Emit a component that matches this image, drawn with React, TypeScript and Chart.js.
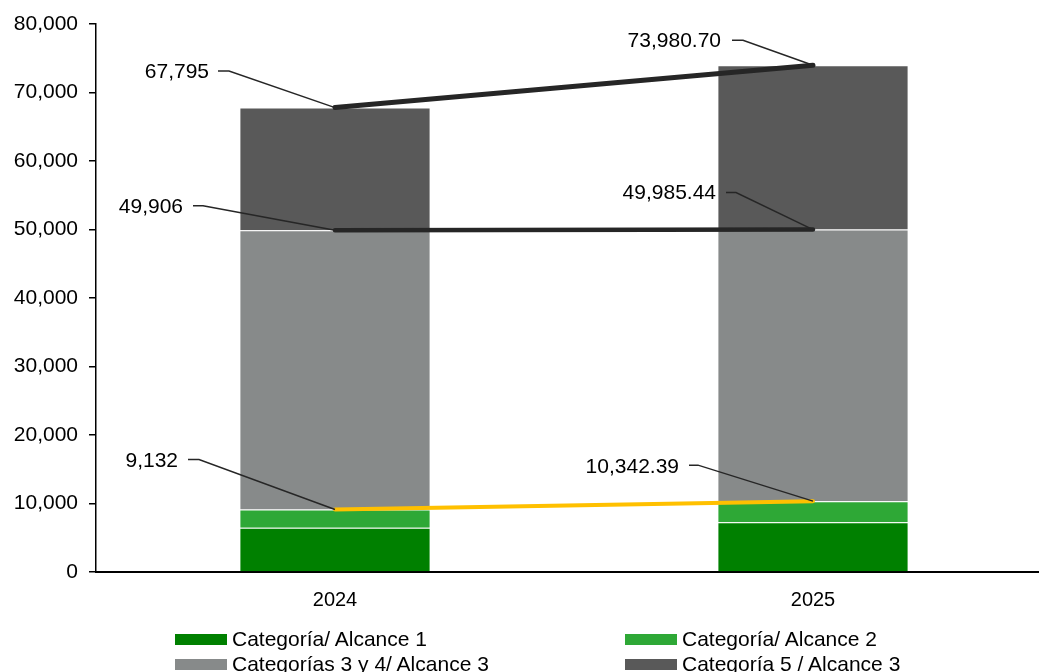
import React, { useEffect, useRef } from "react";
import { Chart, registerables } from "chart.js";

Chart.register(...registerables);

const categories = ["2024", "2025"];
const cat1 = [6470, 7255];
const cat2 = [2662, 3087.39];
const cat34 = [40774, 39643.05];
const cat5 = [17889, 23995.26];
const lineLow = [9132, 10342.39];
const lineMid = [49906, 49985.44];
const lineTop = [67795, 73980.7];
const labelDecimals = [0, 2];
const yTicks = [0, 10000, 20000, 30000, 40000, 50000, 60000, 70000, 80000];

const barLabels = [
  "Categoría/ Alcance 1",
  "Categoría/ Alcance 2",
  "Categorías 3 y 4/ Alcance 3",
  "Categoría 5 / Alcance 3",
];
const barColors = ["#008000", "#2EA836", "#878A8A", "#595959"];

const FONT = '"Liberation Sans", Arial, sans-serif';

// label placement offsets (px) relative to the data point: [textRightDx, textDy, leaderStartDx, kneeDx, leaderDy]
const labelOffsets: Record<string, number[][]> = {
  top: [
    [-126, -35, -117, -106, -36.5],
    [-92, -24, -81, -70, -25],
  ],
  mid: [
    [-152, -23, -142, -132, -24.5],
    [-97, -36, -87, -77, -37],
  ],
  low: [
    [-157, -48, -147, -136, -50],
    [-134, -34, -124, -115, -36],
  ],
};

const fmt = (v: number, d: number) =>
  v.toLocaleString("en-US", { minimumFractionDigits: d, maximumFractionDigits: d });

const labelPlugin = {
  id: "leaderLabels",
  afterDatasetsDraw(chart: any) {
    const ctx = chart.ctx;
    chart.data.datasets.forEach((ds: any, di: number) => {
      if (!ds.labelKey) return;
      const meta = chart.getDatasetMeta(di);
      meta.data.forEach((pt: any, i: number) => {
        const off = labelOffsets[ds.labelKey][i];
        const x = pt.x;
        const y = pt.y;
        ctx.save();
        ctx.strokeStyle = "#262626";
        ctx.lineWidth = 1.5;
        ctx.beginPath();
        ctx.moveTo(x + off[2], y + off[4]);
        ctx.lineTo(x + off[3], y + off[4]);
        ctx.lineTo(x, y);
        ctx.stroke();
        ctx.fillStyle = "#000";
        ctx.font = `21px ${FONT}`;
        ctx.textAlign = "right";
        ctx.textBaseline = "middle";
        ctx.fillText(fmt(ds.data[i], labelDecimals[i]), x + off[0], y + off[1]);
        ctx.restore();
      });
    });
  },
};

export default function App() {
  const ref = useRef<HTMLCanvasElement | null>(null);

  useEffect(() => {
    if (!ref.current) return;
    const barSets = [cat1, cat2, cat34, cat5].map((d, i) => ({
      type: "bar" as const,
      label: barLabels[i],
      data: d,
      backgroundColor: barColors[i],
      borderColor: "rgba(255,255,255,0.2)",
      borderWidth: 1,
      stack: "bars",
      order: 2,
      categoryPercentage: 1,
      barPercentage: 0.4,
    }));
    const lineSets = [
      { data: lineLow, color: "#FFC000", width: 4, key: "low" },
      { data: lineMid, color: "#262626", width: 4.5, key: "mid" },
      { data: lineTop, color: "#262626", width: 5, key: "top" },
    ].map((l, i) => ({
      type: "line" as const,
      label: "line" + i,
      data: l.data,
      borderColor: l.color,
      backgroundColor: l.color,
      borderWidth: l.width,
      borderCapStyle: "round",
      pointRadius: 0,
      fill: false,
      stack: "line" + i,
      order: 0,
      labelKey: l.key,
    }));

    const chart = new Chart(ref.current, {
      type: "bar",
      data: { labels: categories, datasets: [...barSets, ...lineSets] as any },
      options: {
        animation: false,
        responsive: false,
        devicePixelRatio: 1,
        layout: { padding: { top: 24, right: 8, left: 0, bottom: 0 } },
        plugins: { legend: { display: false }, tooltip: { enabled: false } },
        scales: {
          x: {
            stacked: true,
            offset: true,
            grid: { display: false },
            border: { display: true, color: "#000", width: 2 },
            ticks: { color: "#000", font: { family: FONT, size: 20 }, padding: 8 },
            afterFit: (s: any) => {
              s.height = 100;
            },
          },
          y: {
            stacked: true,
            min: 0,
            max: 80000,
            afterBuildTicks: (s: any) => {
              s.ticks = yTicks.map((v) => ({ value: v }));
            },
            grid: {
              display: true,
              drawOnChartArea: false,
              drawTicks: true,
              tickLength: 7,
              color: "#000",
              lineWidth: 1.5,
            },
            border: { display: true, color: "#000", width: 1.5 },
            ticks: {
              color: "#000",
              font: { family: FONT, size: 21 },
              padding: 11,
              callback: (v: any) => Number(v).toLocaleString("en-US"),
            },
            afterFit: (s: any) => {
              s.width = 96;
            },
          },
        },
      } as any,
      plugins: [labelPlugin],
    });
    return () => chart.destroy();
  }, []);

  return (
    <div
      style={{
        position: "fixed",
        left: 0,
        top: 0,
        width: 1039,
        height: 672,
        overflow: "hidden",
        background: "#fff",
      }}
    >
      <canvas ref={ref} width={1060} height={672} style={{ width: 1060, height: 672, display: "block" }} />
      {barLabels.map((lab, i) => {
        const col = i % 2;
        const row = Math.floor(i / 2);
        const left = col === 0 ? 175 : 625;
        const top = 634 + row * 25;
        return (
          <div
            key={lab}
            style={{
              position: "absolute",
              left,
              top: top - 6,
              height: 22,
              display: "flex",
              alignItems: "center",
              fontFamily: FONT,
              fontSize: 21,
              color: "#000",
              whiteSpace: "nowrap",
            }}
          >
            <span style={{ display: "inline-block", width: 52, height: 11, background: barColors[i], marginRight: 5 }} />
            <span>{lab}</span>
          </div>
        );
      })}
    </div>
  );
}
